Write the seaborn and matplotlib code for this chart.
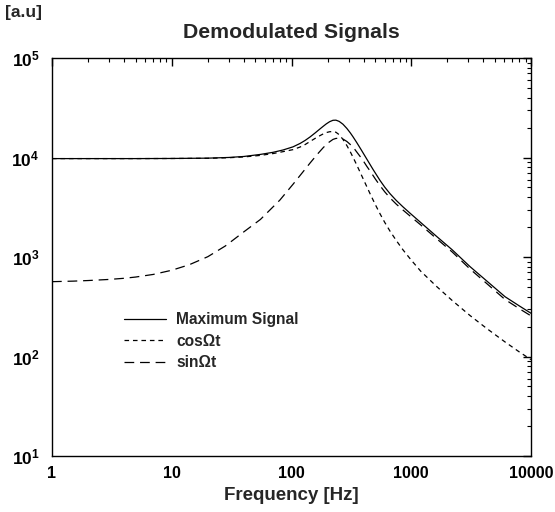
import numpy as np
import pandas as pd
import matplotlib
matplotlib.use("Agg")
import matplotlib.pyplot as plt
import seaborn as sns
from matplotlib.ticker import FixedLocator, FuncFormatter, LogLocator, NullFormatter

# ---- data ----
freq_max = [1, 5, 10, 20, 30, 40, 55, 70, 85, 103, 118, 130, 143, 158, 173, 183, 195, 208,
            222, 235, 250, 269, 290, 310, 326, 350, 380, 427, 480, 548, 600, 665, 750, 853,
            1000, 1200, 1641, 2200, 3097, 4300, 6070, 8000, 10000]
max_signal = [9750, 9750, 9780, 9850, 10010, 10240, 10740, 11270, 11900, 12800, 13850,
              14850, 16100, 17710, 19390, 20480, 21750, 22890, 23660, 23730, 23070, 21600,
              19590, 17660, 16180, 14180, 12080, 9570, 7575, 5890, 5047, 4326, 3700, 3190,
              2689, 2220, 1598, 1180, 800, 570, 399, 322, 272]

freq_cos = [1, 5, 10, 20, 30, 40, 55, 70, 85, 103, 118, 130, 143, 158, 173, 183, 195, 208,
            222, 235, 250, 269, 290, 310, 330, 350, 390, 452, 500, 548, 600, 665, 750, 853,
            1000, 1200, 1630, 2200, 3097, 4300, 6070, 8000, 10000]
cos_signal = [9750, 9750, 9770, 9820, 9950, 10130, 10500, 10950, 11450, 12000, 12750,
              13500, 14500, 15600, 16600, 17200, 17800, 18150, 18250, 17940, 16970, 15210,
              13180, 11380, 9790, 8450, 6380, 4350, 3380, 2725, 2232, 1818, 1464, 1180,
              930, 720, 505, 365, 258, 190, 140, 111, 93]

freq_sin = [1, 1.5, 2, 3, 4, 5, 7, 10, 14, 20, 28, 40, 55, 80, 103, 120, 143, 165, 185,
            205, 222, 235, 250, 269, 290, 310, 330, 350, 390, 427, 452, 500, 548, 600, 665,
            750, 853, 1000, 1200, 1641, 2200, 3097, 4300, 6070, 8000, 10000]
sin_signal = [565, 572, 580, 595, 611, 629, 668, 736, 836, 1007, 1290, 1790, 2384, 3735,
              5385, 6770, 8810, 10840, 12650, 14200, 15200, 15550, 15620, 15340, 14490,
              13500, 12530, 11390, 9590, 8100, 7350, 6110, 5220, 4527, 3925, 3398, 2964,
              2523, 2100, 1516, 1122, 757, 537, 374, 302, 256]

series_names = ["Maximum Signal", "cos\u03a9t", "sin\u03a9t"]
x_ticks = [1, 10, 100, 1000, 10000]
y_ticks = [10, 100, 1000, 10000, 100000]

# ---- style ----
sns.set_theme(style="white")
plt.rcParams.update({
    "font.family": ["Liberation Sans", "DejaVu Sans"],
    "font.weight": "bold",
    "mathtext.fontset": "custom",
    "mathtext.rm": "Liberation Sans:bold",
    "mathtext.bf": "Liberation Sans:bold",
    "mathtext.it": "Liberation Sans:bold:italic",
    "lines.scale_dashes": False,
    "axes.edgecolor": "black",
    "axes.linewidth": 1.0,
})

fig = plt.figure(figsize=(5.55, 5.12), dpi=100)
ax = fig.add_axes([52 / 555, 56 / 512, 479 / 555, 398 / 512])
ax.set_xscale("log")
ax.set_yscale("log")

df = pd.concat([
    pd.DataFrame({"f": freq_max, "v": max_signal, "s": series_names[0]}),
    pd.DataFrame({"f": freq_cos, "v": cos_signal, "s": series_names[1]}),
    pd.DataFrame({"f": freq_sin, "v": sin_signal, "s": series_names[2]}),
])

dash_map = {series_names[0]: "", series_names[1]: (3.3, 2.8), series_names[2]: (7.0, 4.2)}
sns.lineplot(data=df, x="f", y="v", style="s", dashes=dash_map, color="black",
             linewidth=0.9, estimator=None, sort=True, ax=ax, legend=True)

ax.set_xlim(1, 1e4)
ax.set_ylim(10, 1e5)

ax.xaxis.set_major_locator(FixedLocator(x_ticks))
ax.xaxis.set_major_formatter(FuncFormatter(lambda v, p: f"{int(round(v))}"))
ax.xaxis.set_minor_locator(LogLocator(base=10, subs=np.arange(2, 10)))
ax.xaxis.set_minor_formatter(NullFormatter())
ax.yaxis.set_major_locator(FixedLocator(y_ticks))
ax.yaxis.set_major_formatter(FuncFormatter(
    lambda v, p: r"$\mathbf{10^{%d}}$" % int(round(np.log10(v)))))
ax.yaxis.set_minor_locator(LogLocator(base=10, subs=np.arange(2, 10)))
ax.yaxis.set_minor_formatter(NullFormatter())

ax.tick_params(which="both", direction="in", top=True, right=True, colors="black")
ax.tick_params(which="major", length=6, width=1.0, labelsize=11.5)
ax.tick_params(axis="x", which="major", pad=7)
ax.tick_params(axis="y", which="major", pad=9, labelsize=12.5)
ax.tick_params(which="minor", length=3, width=0.8)
for lab in ax.get_xticklabels() + ax.get_yticklabels():
    lab.set_fontweight("bold")

for sp in ax.spines.values():
    sp.set_visible(True)
    sp.set_color("black")
    sp.set_linewidth(1.0)

ax.set_xlabel("Frequency [Hz]", fontsize=13.5, fontweight="bold", va="center")
ax.xaxis.set_label_coords(0.5, -(493 - 454) / 398)
ax.set_ylabel("")

fig.text(0.525, 1 - 32 / 512, "Demodulated Signals", ha="center", va="center",
         fontsize=15.3, fontweight="bold")
fig.text(5 / 555, 1 - 13 / 512, "[a.u]", ha="left", va="center",
         fontsize=12.5, fontweight="bold")

handles, labels = ax.get_legend_handles_labels()
leg = ax.legend(handles, labels, loc="upper left",
                bbox_to_anchor=(124 / 555, 1 - 312 / 512), bbox_transform=fig.transFigure,
                frameon=False, prop={"size": 11.2, "weight": "bold"},
                handlelength=2.7, handletextpad=0.65, labelspacing=0.42,
                borderpad=0, borderaxespad=0)
for h in leg.get_lines():
    h.set_color("black")
    h.set_linewidth(0.9)

fig.savefig("out.png", dpi=100)
